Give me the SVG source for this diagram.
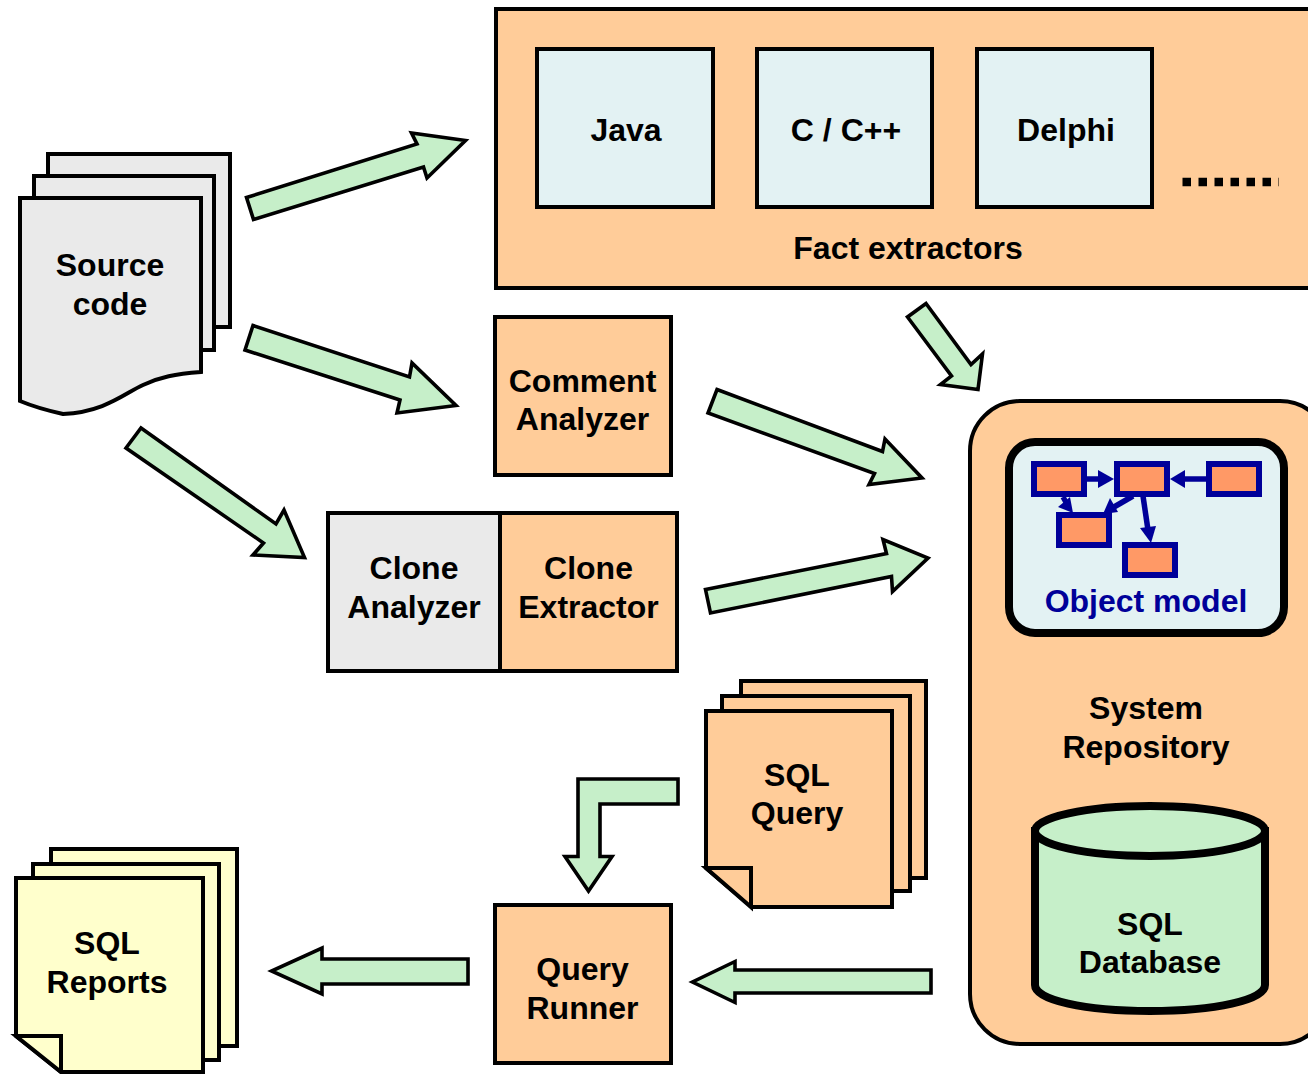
<svg xmlns="http://www.w3.org/2000/svg" width="1308" height="1074" viewBox="0 0 1308 1074">
<defs><style>
.k{stroke:#000;stroke-width:4;stroke-linejoin:miter}
.o{fill:#ffcc99}.g{fill:#eaeaea}.b{fill:#e3f2f3}.y{fill:#ffffcc}
.a{fill:#c6efc9;stroke:#000;stroke-width:3.6;stroke-linejoin:miter;stroke-miterlimit:10}
text{font-family:"Liberation Sans",Arial,sans-serif;font-weight:700;font-size:32px;fill:#000;text-anchor:middle}
.m{fill:#ff9966;stroke:#000099;stroke-width:6}
.c{stroke:#000099;stroke-width:5.5;fill:none}
.h{fill:#000099}
</style></defs>
<rect width="1308" height="1074" fill="#fff"/>
<g id="connectors">
<polygon class="a" points="246.5,197.5 417,144 411.5,133 465.5,140.5 427,178 423.5,167 253.5,219.5"/>
<polygon class="a" points="253,325.5 409.5,377 412,363 456,405.5 397,413 400,400 245,350"/>
<polygon class="a" points="141,428 276,524 284,510 304.5,557.5 253,555 263.5,543 126,448"/>
<polygon class="a" points="717,389.5 882.5,451.5 885,439 922,478 869,484.5 874.5,473.5 708,413"/>
<polygon class="a" points="705.5,589.5 886.5,553.5 883,539.5 928,558 892.5,591.5 891.5,576.5 710.5,613"/>
<polygon class="a" points="926,303.5 971,364.5 982.5,354 978,389.5 940.5,384.5 951.5,376 907.5,317"/>
<polygon class="a" points="678,779 578,779 578,856.5 565,856.5 588.5,891 612,856.5 600,856.5 600,804 678,804"/>
<polygon class="a" points="931,970 735,970 735,961.5 692.5,982 735,1002.5 735,993 931,993"/>
<polygon class="a" points="468,959 322,959 322,948 271.5,971 322,994 322,984 468,984"/>
</g>
<g id="fact-extractors">
<path class="k o" d="M1310,9H496V288H1310"/>
<text x="908" y="259">Fact extractors</text>
<path d="M1182.5,182H1279" stroke="#000" stroke-width="8.5" stroke-dasharray="8.5 7.5" fill="none"/>
</g>
<g id="java"><rect class="k b" x="537" y="49" width="176" height="158"/><text x="626" y="141">Java</text></g>
<g id="cpp"><rect class="k b" x="757" y="49" width="175" height="158"/><text x="846" y="141">C / C++</text></g>
<g id="delphi"><rect class="k b" x="977" y="49" width="175" height="158"/><text x="1066" y="141">Delphi</text></g>
<g id="source-code">
<path class="k g" d="M48,154H230V327H48Z"/>
<path class="k g" d="M34,176H214V350H34Z"/>
<path class="k g" d="M20,198H201V372C175,374 160,377 143,385C125,393 105,412 63,414C45,410 32,406 20,401Z"/>
<text x="110" y="276">Source</text><text x="110" y="315">code</text>
</g>
<g id="comment-analyzer"><rect class="k o" x="495" y="317" width="176" height="158"/><text x="582.5" y="392">Comment</text><text x="582.5" y="430">Analyzer</text></g>
<g id="clone-analyzer"><rect class="k g" x="328" y="513" width="172" height="158"/><text x="414" y="579">Clone</text><text x="414" y="618">Analyzer</text></g>
<g id="clone-extractor"><rect class="k o" x="500" y="513" width="177" height="158"/><text x="588.5" y="579">Clone</text><text x="588.5" y="618">Extractor</text></g>
<g id="system-repository">
<rect class="k o" x="970" y="401" width="360" height="643" rx="50"/>
<text x="1146" y="719">System</text><text x="1146" y="758">Repository</text>
</g>
<g id="object-model">
<rect x="1009" y="442" width="275" height="191" rx="26" fill="#e3f2f3" stroke="#000" stroke-width="8"/>
<g class="c"><path d="M1084,479H1102"/><path d="M1208,479H1182"/><path d="M1063,497L1067,504"/><path d="M1133,496L1114,507"/><path d="M1143,496L1148,530"/></g>
<g class="h"><polygon points="1114,479 1098,470 1098,488"/><polygon points="1170,479 1185,470 1185,488"/><polygon points="1073,513 1058,507 1070,497"/><polygon points="1103,514 1110,498 1118,512"/><polygon points="1151,543 1140,528 1156,526"/></g>
<rect class="m" x="1034" y="464" width="50" height="30"/><rect class="m" x="1117" y="464" width="50" height="30"/><rect class="m" x="1209" y="464" width="50" height="30"/><rect class="m" x="1059" y="515" width="50" height="30"/><rect class="m" x="1125" y="545" width="50" height="30"/>
<text x="1146" y="612" style="fill:#000099">Object model</text>
</g>
<g id="sql-database">
<path d="M1035,831V985C1035,1000 1085,1011 1150,1011C1215,1011 1265,1000 1265,985V831Z" fill="#c6efc9" stroke="#000" stroke-width="8"/>
<ellipse cx="1150" cy="831" rx="115" ry="25" fill="#c6efc9" stroke="#000" stroke-width="8"/>
<text x="1150" y="935">SQL</text><text x="1150" y="973">Database</text>
</g>
<g id="sql-query">
<path class="k o" d="M741,696V681H926V878H910"/>
<path class="k o" d="M722,711V696H910V891H892"/>
<path class="k o" d="M706,711H892V907H752L706,868Z"/>
<path class="k o" d="M706,868H751V907Z"/>
<text x="797" y="786">SQL</text><text x="797" y="824">Query</text>
</g>
<g id="query-runner"><rect class="k o" x="495" y="905" width="176" height="158"/><text x="582.5" y="980">Query</text><text x="582.5" y="1019">Runner</text></g>
<g id="sql-reports">
<path class="k y" d="M51,864V849H237V1046H219"/>
<path class="k y" d="M33,878V864H219V1060H203"/>
<path class="k y" d="M16,878H203V1072H61L16,1036Z"/>
<path class="k y" d="M16,1036H61V1072Z"/>
<text x="107" y="954">SQL</text><text x="107" y="993">Reports</text>
</g>
</svg>
